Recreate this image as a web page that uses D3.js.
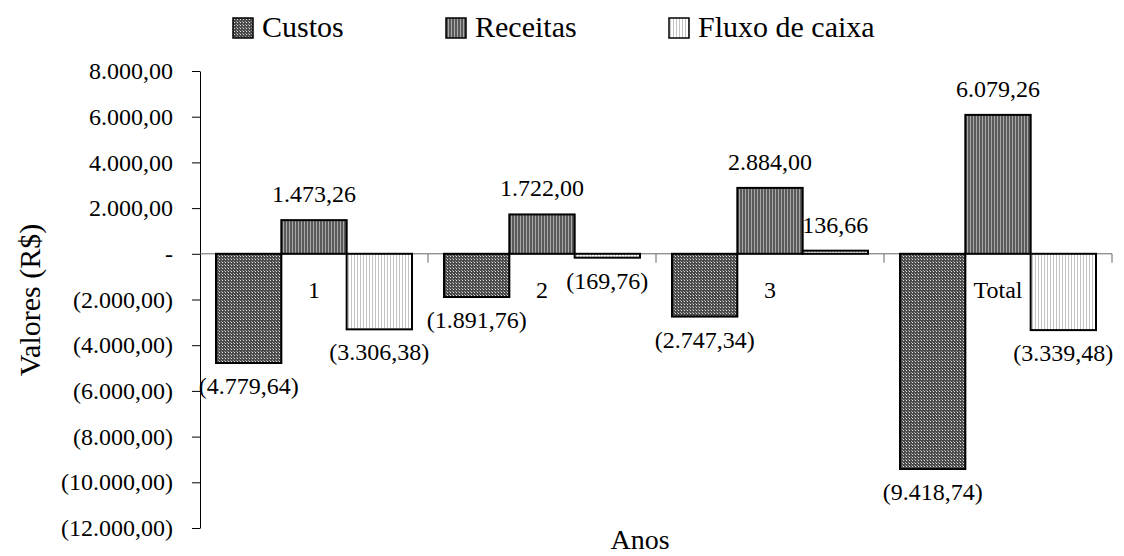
<!DOCTYPE html>
<html>
<head>
<meta charset="utf-8">
<script src="https://cdn.jsdelivr.net/npm/d3@7"></script>
<style>
  body { margin: 0; background: #fff; }
  svg text { font-family: "Times New Roman", "Liberation Serif", serif !important; fill: #000; }
</style>
</head>
<body>
<div class="chart-container"></div>
<script>
var width = 1124;
var height = 556;
var serif = "'Times New Roman', 'Liberation Serif', serif";

// data
var categories = ["1", "2", "3", "Total"];
var seriesNames = ["Custos", "Receitas", "Fluxo de caixa"];
var custos = [-4779.64, -1891.76, -2747.34, -9418.74];
var receitas = [1473.26, 1722.00, 2884.00, 6079.26];
var fluxo = [-3306.38, -169.76, 136.66, -3339.48];
var yTicks = [8000, 6000, 4000, 2000, 0, -2000, -4000, -6000, -8000, -10000, -12000];

var seriesValues = [custos, receitas, fluxo];
var patternIds = ["pat-custos", "pat-receitas", "pat-fluxo"];

var svg = d3.select(".chart-container").append("svg")
	.attr("width", width).attr("height", height)
	.attr("font-family", serif);

var locale = d3.formatLocale({ decimal: ",", thousands: ".", grouping: [3], currency: ["R$", ""] });
var fmt = locale.format(",.2f");

/* Excel style accounting format: negatives in brackets, zero as a dash */
function money(v) {
	if (v === 0) return "-";
	return v < 0 ? "(" + fmt(-v) + ")" : fmt(v);
}

var x0 = d3.scaleBand().domain(categories).range([200, 1112]).padding(0);
var x1 = d3.scaleBand().domain(seriesNames).range([0, x0.bandwidth()]).paddingInner(0).paddingOuter(0.245);
var y = d3.scaleLinear().domain([-12000, 8000]).range([528, 71]);

// fill patterns
var defs = svg.append("defs");

var p1 = defs.append("pattern").attr("id", "pat-custos")
	.attr("patternUnits", "userSpaceOnUse").attr("width", 3).attr("height", 3);
p1.append("rect").attr("width", 3).attr("height", 3).attr("fill", "#4a4a4a");
p1.append("rect").attr("x", 1).attr("y", 1).attr("width", 1).attr("height", 1).attr("fill", "#e0e0e0");
p1.append("rect").attr("x", 0).attr("y", 0).attr("width", 1).attr("height", 1).attr("fill", "#9a9a9a");

var p2 = defs.append("pattern").attr("id", "pat-receitas")
	.attr("patternUnits", "userSpaceOnUse").attr("width", 3).attr("height", 3);
p2.append("rect").attr("width", 3).attr("height", 3).attr("fill", "#5a5a5a");
p2.append("rect").attr("x", 2).attr("width", 1).attr("height", 3).attr("fill", "#a8a8a8");

var p3 = defs.append("pattern").attr("id", "pat-fluxo")
	.attr("patternUnits", "userSpaceOnUse").attr("width", 3).attr("height", 3);
p3.append("rect").attr("width", 3).attr("height", 3).attr("fill", "#ffffff");
p3.append("rect").attr("x", 1).attr("width", 1).attr("height", 3).attr("fill", "#c4c4c4");

// y axis
var yAxis = d3.axisLeft(y)
	.tickValues(yTicks)
	.tickFormat(money)
	.tickSize(8)
	.tickSizeOuter(0)
	.tickPadding(19);

var gy = svg.append("g").attr("transform", "translate(200,0)").call(yAxis);
gy.attr("font-family", serif).attr("font-size", 24);
gy.select(".domain").attr("stroke", "#000");
gy.selectAll(".tick line").attr("stroke", "#000");
gy.selectAll(".tick text").attr("fill", "#000");

// category axis on the zero line
svg.append("line")
	.attr("x1", x0.range()[0]).attr("x2", x0.range()[1])
	.attr("y1", y(0)).attr("y2", y(0))
	.attr("stroke", "#666").attr("stroke-width", 1);

svg.selectAll(".cat-tick")
	.data(categories)
	.enter().append("line")
	.attr("class", "cat-tick")
	.attr("x1", function(d) { return x0(d) + x0.bandwidth(); })
	.attr("x2", function(d) { return x0(d) + x0.bandwidth(); })
	.attr("y1", y(0)).attr("y2", y(0) + 9)
	.attr("stroke", "#666");

// bars
var groups = svg.selectAll(".group")
	.data(categories)
	.enter().append("g")
	.attr("class", "group")
	.attr("transform", function(d) { return "translate(" + x0(d) + ",0)"; });

seriesNames.forEach(function(name, s) {
	groups.append("rect")
		.attr("x", x1(name))
		.attr("width", x1.bandwidth())
		.attr("y", function(d, i) { return y(Math.max(0, seriesValues[s][i])); })
		.attr("height", function(d, i) { return Math.abs(y(seriesValues[s][i]) - y(0)); })
		.attr("fill", "url(#" + patternIds[s] + ")")
		.attr("stroke", "#000")
		.attr("stroke-width", 2);

	groups.append("text")
		.attr("x", x1(name) + x1.bandwidth() / 2)
		.attr("y", function(d, i) {
			var v = seriesValues[s][i];
			return v >= 0 ? y(v) - 18 : y(v) + 31;
		})
		.attr("text-anchor", "middle")
		.attr("font-size", 24)
		.text(function(d, i) { return money(seriesValues[s][i]); });
});

// category labels
groups.append("text")
	.attr("x", x0.bandwidth() / 2)
	.attr("y", y(0) + 44)
	.attr("text-anchor", "middle")
	.attr("font-size", 24)
	.text(function(d) { return d; });

// axis titles
svg.append("text")
	.attr("transform", "translate(40,300) rotate(-90)")
	.attr("text-anchor", "middle")
	.attr("font-size", 30)
	.text("Valores (R$)");

svg.append("text")
	.attr("x", 640).attr("y", 549)
	.attr("text-anchor", "middle")
	.attr("font-size", 28)
	.text("Anos");

// legend
var legendX = [233, 446, 669];
var legend = svg.selectAll(".legend")
	.data(seriesNames)
	.enter().append("g")
	.attr("class", "legend")
	.attr("transform", function(d, i) { return "translate(" + legendX[i] + ",18)"; });

legend.append("rect")
	.attr("width", 20).attr("height", 20)
	.attr("fill", function(d, i) { return "url(#" + patternIds[i] + ")"; })
	.attr("stroke", "#000").attr("stroke-width", 1.5);

legend.append("text")
	.attr("x", 29).attr("y", 19)
	.attr("font-size", 30)
	.text(function(d) { return d; });
</script>
</body>
</html>
